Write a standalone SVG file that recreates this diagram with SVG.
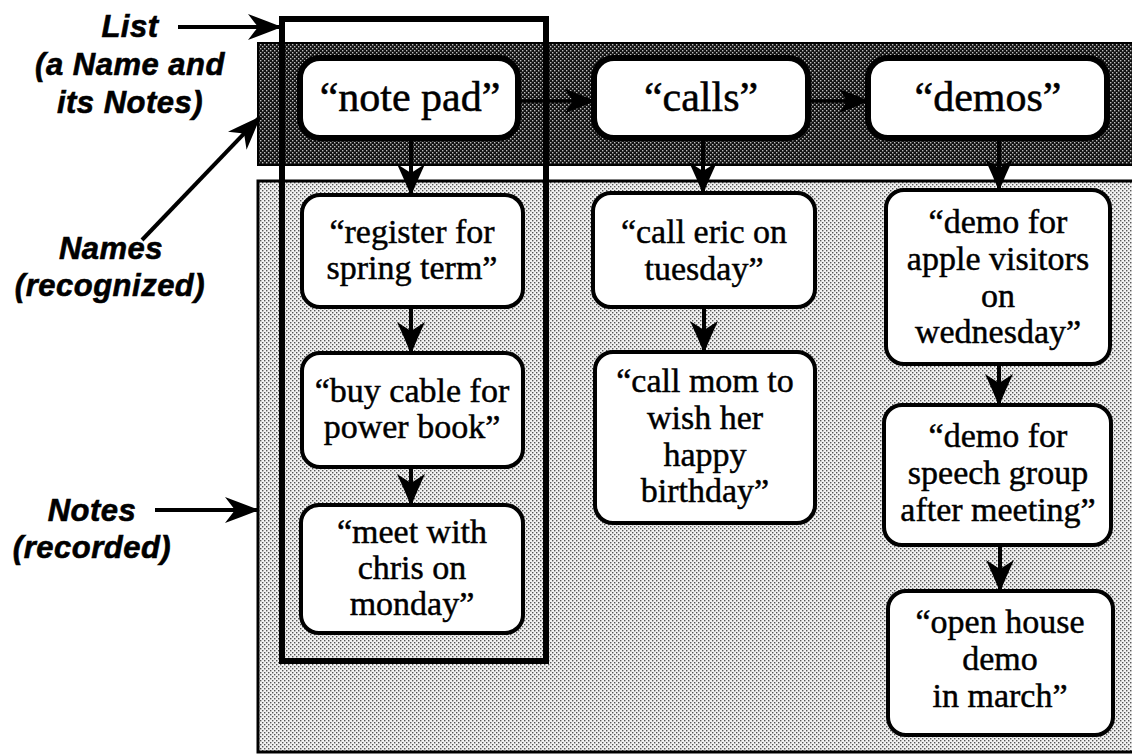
<svg xmlns="http://www.w3.org/2000/svg" width="1132" height="755" viewBox="0 0 1132 755">
  <defs>
    <!-- halftone fills -->
    <pattern id="darkDots" width="4" height="4" patternUnits="userSpaceOnUse">
      <rect width="4" height="4" fill="#111"/>
      <rect x="0" y="0" width="1.4" height="1.4" fill="#bdbdbd"/>
      <rect x="2" y="2" width="1.4" height="1.4" fill="#bdbdbd"/>
    </pattern>
    <pattern id="lightDots" width="4" height="4" patternUnits="userSpaceOnUse">
      <rect width="4" height="4" fill="#f2f2f2"/>
      <rect x="0" y="0" width="1.4" height="1.4" fill="#555"/>
      <rect x="2" y="2" width="1.4" height="1.4" fill="#555"/>
    </pattern>
    <marker id="head" viewBox="0 0 32 28" refX="31" refY="14" markerWidth="32" markerHeight="28" markerUnits="userSpaceOnUse" orient="auto">
      <path d="M32,14 Q15,7 0,0 L9,14 L0,28 Q15,21 32,14 Z" fill="#000"/>
    </marker>
    <marker id="headSmall" viewBox="0 0 30 24" refX="29" refY="12" markerWidth="30" markerHeight="24" markerUnits="userSpaceOnUse" orient="auto">
      <path d="M30,12 Q14,5 0,0 L8,12 L0,24 Q14,19 30,12 Z" fill="#000"/>
    </marker>
    <marker id="pointer" viewBox="0 0 34 26" refX="33" refY="13" markerWidth="34" markerHeight="26" markerUnits="userSpaceOnUse" orient="auto">
      <path d="M34,13 Q16,6 0,0 L10,13 L0,26 Q16,20 34,13 Z" fill="#000"/>
    </marker>
  </defs>
  <style>
    .label { font-family: "Liberation Sans", "DejaVu Sans", sans-serif; font-weight: bold; font-style: italic; font-size: 31px; letter-spacing: 0.5px; fill: #000; stroke: #000; stroke-width: 0.6; text-anchor: middle; }
    .name rect { fill: #fff; stroke: #000; stroke-width: 6; }
    .note rect { fill: #fff; stroke: #000; stroke-width: 4; }
    .name text { font-family: "Liberation Serif", "DejaVu Serif", serif; font-size: 42px; fill: #000; stroke: #000; stroke-width: 0.5; text-anchor: middle; }
    .note text { font-family: "Liberation Serif", "DejaVu Serif", serif; font-size: 34px; fill: #000; stroke: #000; stroke-width: 0.45; text-anchor: middle; }
    .link { stroke: #000; stroke-width: 4; fill: none; }
    .link.h { stroke-width: 3.5; marker-end: url(#headSmall); }
    .link.v { marker-end: url(#head); }
    .callout { stroke: #000; stroke-width: 4; fill: none; marker-end: url(#pointer); }
  </style>

  <rect width="1132" height="755" fill="#fff"/>

  <!-- bands: names strip and notes area -->
  <rect id="names-band" x="258" y="43" width="880" height="122" fill="url(#darkDots)" stroke="#000" stroke-width="2"/>
  <rect id="notes-panel" x="258" y="181" width="880" height="571" fill="url(#lightDots)" stroke="#000" stroke-width="3"/>

  <!-- side labels -->
  <g id="label-list">
    <text class="label" x="130" y="37">List</text>
    <text class="label" x="130" y="75">(a Name and</text>
    <text class="label" x="130" y="113">its Notes)</text>
  </g>
  <g id="label-names">
    <text class="label" x="111" y="259">Names</text>
    <text class="label" x="110" y="296">(recognized)</text>
  </g>
  <g id="label-notes">
    <text class="label" x="92" y="521">Notes</text>
    <text class="label" x="92" y="558">(recorded)</text>
  </g>

  <!-- connectors -->
  <g id="connectors">
    <line class="link h" x1="518" y1="101" x2="594" y2="101"/>
    <line class="link h" x1="808" y1="101" x2="868" y2="101"/>
    <line class="link v" x1="411" y1="138" x2="411" y2="195"/>
    <line class="link v" x1="411" y1="307" x2="411" y2="353"/>
    <line class="link v" x1="411" y1="467" x2="411" y2="505"/>
    <line class="link v" x1="703" y1="138" x2="703" y2="193"/>
    <line class="link v" x1="704" y1="307" x2="704" y2="352"/>
    <line class="link v" x1="999" y1="138" x2="999" y2="190"/>
    <line class="link v" x1="999" y1="364" x2="999" y2="405"/>
    <line class="link v" x1="1000" y1="545" x2="1000" y2="591"/>
    <line class="callout" x1="178" y1="27" x2="281" y2="27"/>
    <line class="callout" x1="142" y1="240" x2="260" y2="117"/>
    <line class="callout" x1="155" y1="510" x2="258" y2="510"/>
  </g>

  <!-- names -->
  <g id="name-notepad" class="name">
    <rect x="300" y="58" width="218" height="80" rx="20"/>
    <text x="410" y="111">“note pad”</text>
  </g>
  <g id="name-calls" class="name">
    <rect x="594" y="58" width="214" height="80" rx="20"/>
    <text x="701" y="111">“calls”</text>
  </g>
  <g id="name-demos" class="name">
    <rect x="868" y="58" width="239" height="80" rx="20"/>
    <text x="988" y="111">“demos”</text>
  </g>

  <!-- notes: note pad -->
  <g id="note-register" class="note">
    <rect x="302" y="195" width="221" height="112" rx="18"/>
    <text x="412" y="243">“register for</text>
    <text x="412" y="279">spring term”</text>
  </g>
  <g id="note-cable" class="note">
    <rect x="302" y="353" width="221" height="114" rx="18"/>
    <text x="412" y="402">“buy cable for</text>
    <text x="412" y="438">power book”</text>
  </g>
  <g id="note-chris" class="note">
    <rect x="301" y="505" width="222" height="128" rx="18"/>
    <text x="412" y="543">“meet with</text>
    <text x="412" y="579">chris on</text>
    <text x="412" y="615">monday”</text>
  </g>

  <!-- notes: calls -->
  <g id="note-eric" class="note">
    <rect x="593" y="193" width="222" height="114" rx="18"/>
    <text x="704" y="243">“call eric on</text>
    <text x="704" y="280">tuesday”</text>
  </g>
  <g id="note-mom" class="note">
    <rect x="595" y="352" width="220" height="171" rx="18"/>
    <text x="705" y="392">“call mom to</text>
    <text x="705" y="429">wish her</text>
    <text x="705" y="466">happy</text>
    <text x="705" y="502">birthday”</text>
  </g>

  <!-- notes: demos -->
  <g id="note-apple" class="note">
    <rect x="886" y="190" width="224" height="174" rx="18"/>
    <text x="998" y="233">“demo for</text>
    <text x="998" y="270">apple visitors</text>
    <text x="998" y="307">on</text>
    <text x="998" y="343">wednesday”</text>
  </g>
  <g id="note-speech" class="note">
    <rect x="884" y="405" width="227" height="140" rx="18"/>
    <text x="998" y="447">“demo for</text>
    <text x="998" y="484">speech group</text>
    <text x="998" y="521">after meeting”</text>
  </g>
  <g id="note-openhouse" class="note">
    <rect x="888" y="591" width="225" height="144" rx="18"/>
    <text x="1000" y="633">“open house</text>
    <text x="1000" y="670">demo</text>
    <text x="1000" y="707">in march”</text>
  </g>

  <!-- list outline spanning one name and its notes -->
  <rect id="list-frame" x="282" y="19" width="264" height="642" fill="none" stroke="#000" stroke-width="6"/>
</svg>
